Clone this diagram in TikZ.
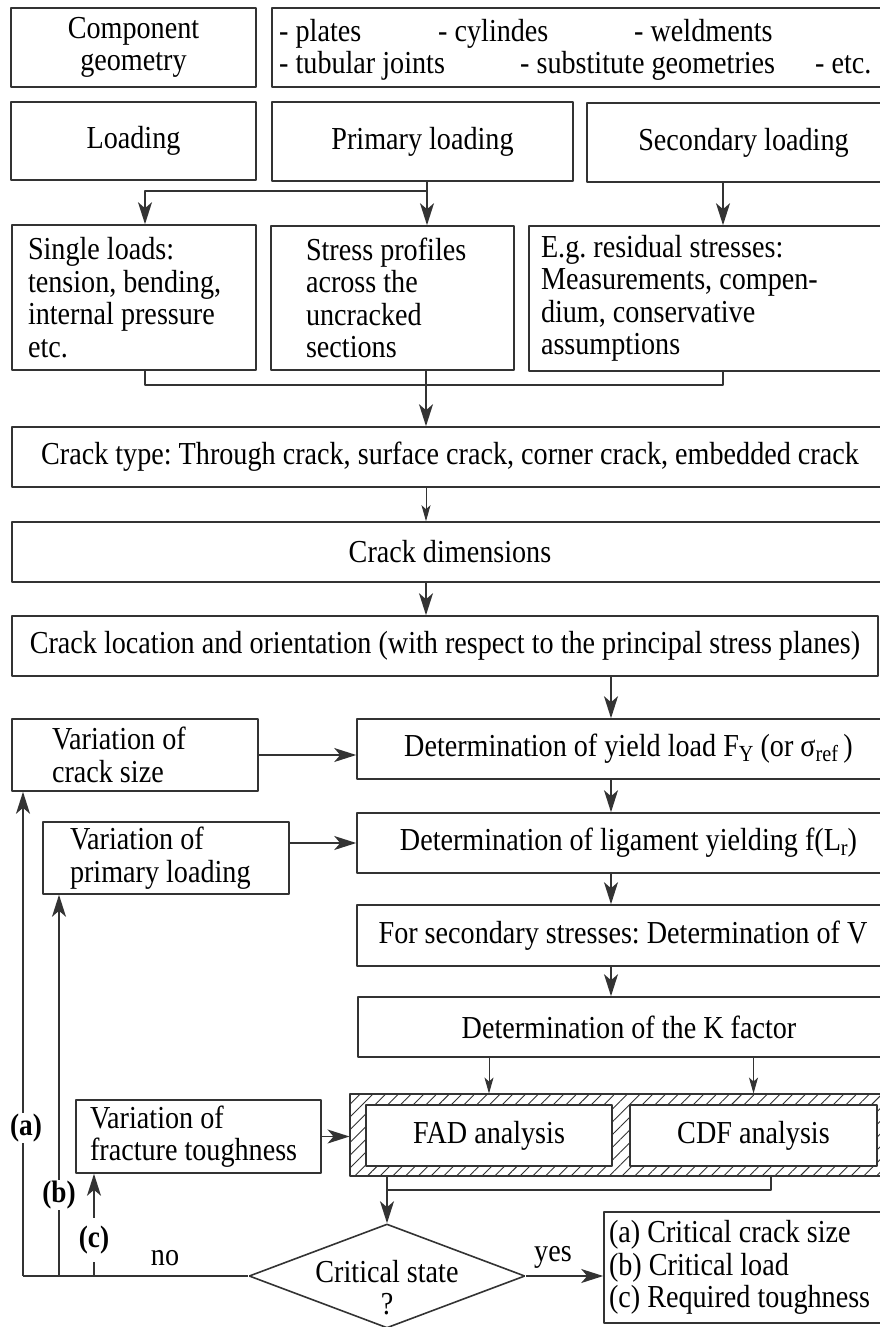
\documentclass[tikz,border=0pt]{standalone}
\usepackage{fontspec}
\setmainfont{Liberation Serif}[FakeStretch=0.88]
\usetikzlibrary{positioning,arrows.meta,patterns.meta,shapes.geometric}
\newcommand{\lowidx}[1]{\raisebox{-0.35ex}{\fontsize{23}{24}\selectfont #1}}
\frenchspacing

\begin{document}
\begin{tikzpicture}[x=1pt,y=-1pt,>={Stealth[length=22pt,width=14pt,inset=6pt]},line join=bevel,
  font=\fontsize{32}{32.5}\selectfont,
  boxed/.style={draw=black!80,line width=1.6pt,rectangle,inner sep=0pt,align=center},
  lboxed/.style={boxed,align=flush left},
  plain/.style={draw=black!80,line width=1.6pt},
  arr/.style={plain,->},
  thinarr/.style={draw=black!80,line width=1pt,-{Stealth[length=16pt,width=9pt,inset=4pt]}},
  listitem/.style={anchor=base west,inner sep=0pt},
  caselbl/.style={fill=white,inner sep=1pt,font=\fontsize{31}{32.5}\selectfont\bfseries}]
\useasboundingbox (0,0) rectangle (880,1327);
\clip (0,0) rectangle (880,1327);
%%
\node (comp) at (133.5,47.5) [boxed,minimum width=245,minimum height=79] {Component\\geometry};
  \node (geolist) at (586,47.5) [boxed,minimum width=628,minimum height=79] {};
  \node (plates) at (279,42) [listitem] {- plates};
  \node (cyl) at (438,42) [listitem] {- cylindes};
  \node (weld) at (634,42) [listitem] {- weldments};
  \node (tub) at (279,74) [listitem] {- tubular joints};
  \node (subst) at (520,74) [listitem] {- substitute geometries};
  \node (etc) at (815,74) [listitem] {- etc.};
  \node (load) at (133.5,141) [boxed,minimum width=245,minimum height=78] {Loading};
  \node (primload) at (422.5,141.5) [boxed,minimum width=301,minimum height=79] {Primary loading};
  \node (secload) at (743.5,142.5) [boxed,minimum width=313,minimum height=79] {Secondary loading};
  \node (single) at (134,297.5) [lboxed,text width=212,inner xsep=16,minimum height=145] {Single loads:\\tension, bending,\\internal pressure\\etc.};
  \node (stress) at (392.5,298) [lboxed,text width=173,inner xsep=35,minimum height=144] {Stress profiles\\across the\\uncracked\\sections};
  \node (resid) at (714.5,298.5) [lboxed,text width=347,inner xsep=12,minimum height=145] {E.g. residual stresses:\\Measurements, compen-\\dium, conservative\\assumptions};
  \node (ctype) at (450,457) [boxed,minimum width=876,minimum height=60] {Crack type: Through crack, surface crack, corner crack, embedded crack};
  \node (dims) at (450,552) [boxed,minimum width=876,minimum height=60] {Crack dimensions};
  \node (loc) at (445,646) [boxed,minimum width=866,minimum height=60] {Crack location and orientation (with respect to the principal stress planes)};
  \node (size) at (135,755) [lboxed,text width=166,inner xsep=40,minimum height=72] {Variation of\\crack size};
  \node (yield) at (628.5,749) [boxed,minimum width=543,minimum height=60] {Determination of yield load F\lowidx{Y} (or σ\lowidx{ref}\,)};
  \node (lig) at (628.5,843) [boxed,minimum width=543,minimum height=60] {Determination of ligament yielding f(L\lowidx{r})};
  \node (prim) at (166,858) [lboxed,text width=192,inner xsep=27,minimum height=72] {Variation of\\primary loading};
  \node (sec) at (623,935.5) [boxed,minimum width=532,minimum height=61] {For secondary stresses: Determination of V};
  \node (kfac) at (629,1027) [boxed,minimum width=542,minimum height=60] {Determination of the K factor};
  \node (hatch) at (625,1135) [plain,minimum width=550,minimum height=82,pattern color=black!80,
    pattern={Lines[angle=45,distance=9pt,line width=0.9pt]}] {};
  \node (fad) at (489,1135.5) [boxed,fill=white,minimum width=246,minimum height=61] {FAD analysis};
  \node (cdf) at (753.5,1135.5) [boxed,fill=white,minimum width=247,minimum height=61] {CDF analysis};
  \node (tough) at (198.5,1136.5) [lboxed,text width=217,inner xsep=14,minimum height=73] {Variation of\\fracture toughness};
  \node (crit) at (387,1276) [diamond,plain,minimum width=276,minimum height=104,inner sep=0pt,shape aspect=2.65]
    {\raisebox{-22pt}[0pt][0pt]{\begin{tabular}{@{}c@{}}Critical state\\?\end{tabular}}};
  \node (result) at (752,1267.5) [lboxed,text width=286,inner xsep=5,minimum height=111] {(a) Critical crack size\\(b) Critical load\\(c) Required toughness};
  \coordinate (split) at (427,191);
  \coordinate (gather) at (426,385);
  \coordinate (mergeR) at (723,385);
  \coordinate (spine) at (611,700);
  \coordinate (collect) at (387,1190);
  \coordinate (collectR) at (771,1190);
  \coordinate (noa) at (23,1276);
  \coordinate (nob) at (59,1276);
  \coordinate (noc) at (94,1276);
  \draw [arr] (primload.south -| split) -- (split) -| ([xshift=11pt]single.north);
  \draw [arr] (split) -- (split |- stress.north);
  \draw [arr] (secload.south -| mergeR) -- (mergeR |- resid.north);
  \draw [plain] ([xshift=11pt]single.south) |- (mergeR) -- (mergeR |- resid.south);
  \draw [plain] (gather |- stress.south) -- (gather);
  \draw [arr] (gather) -- (gather |- ctype.north);
  \draw [thinarr] (ctype.south -| gather) -- (dims.north -| gather);
  \draw [arr] (dims.south -| gather) -- (loc.north -| gather);
  \draw [arr] (loc.south -| spine) -- (yield.north -| spine);
  \draw [arr] (yield.south -| spine) -- (lig.north -| spine);
  \draw [arr] (lig.south -| spine) -- (sec.north -| spine);
  \draw [arr] (sec.south -| spine) -- (kfac.north -| spine);
  \draw [thinarr] (kfac.south -| fad.north) -- (hatch.north -| fad.north);
  \draw [thinarr] (kfac.south -| cdf.north) -- (hatch.north -| cdf.north);
  \draw [arr] (size.east) -- (size.east -| yield.west);
  \draw [arr] (prim.east |- lig.west) -- (lig.west);
  \draw [arr] (tough.east) -- (tough.east -| hatch.west);
  \draw [plain] (hatch.south -| collect) -- (collect) -- (collectR) -- (collectR |- hatch.south);
  \draw [arr] (collect) -- (crit.north);
  \draw [arr] (crit.east) -- (crit.east -| result.west);
  \draw [plain] (crit.west) -- (noa);
  \draw [arr] (noa) -- (noa |- size.south);
  \draw [arr] (nob) -- (nob |- prim.south);
  \draw [arr] (noc) -- (noc |- tough.south);
  \node (taga) at (26,1128) [caselbl] {(a)};
  \node (tagb) at (59,1195) [caselbl] {(b)};
  \node (tagc) at (94,1240) [caselbl,inner ysep=8pt] {(c)};
  \node (no) at (165,1258) {no};
  \node (yes) at (553,1257) {yes};
%
\end{tikzpicture}
\end{document}
